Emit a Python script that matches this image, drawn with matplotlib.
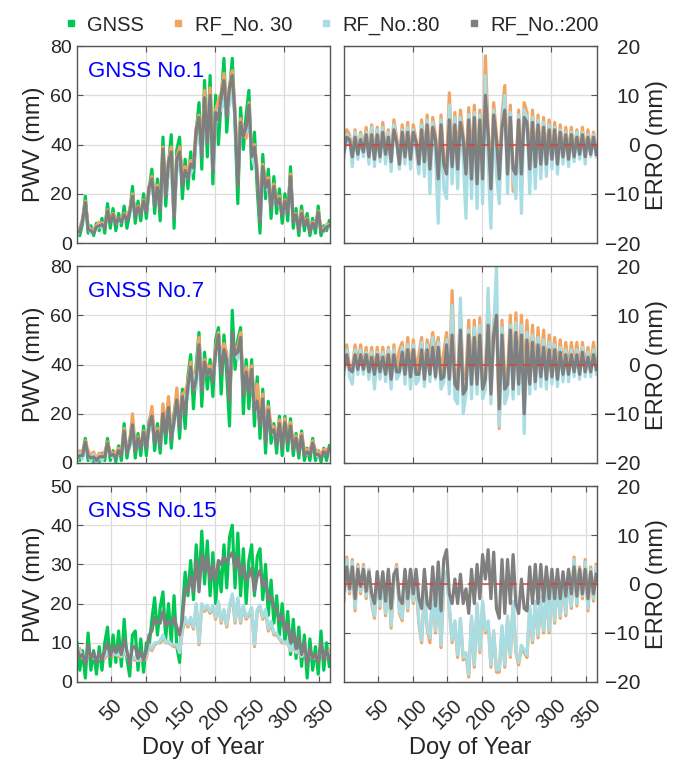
import numpy as np
import matplotlib.pyplot as plt
from matplotlib.lines import Line2D

# day of year sampled every 4 days
days = np.arange(1, 366, 4)

# GNSS PWV (mm), station No.1 / No.7 / No.15
gnss_1 = [6, 3, 8, 19, 4, 7, 3, 8, 5, 10,
          4, 16, 6, 14, 5, 12, 7, 15, 6, 12,
          23, 8, 17, 9, 20, 10, 22, 30, 12, 26,
          9, 43, 15, 32, 44, 6, 38, 43, 18, 34,
          22, 37, 26, 45, 57, 30, 66, 35, 68, 24,
          60, 40, 58, 75, 45, 62, 75, 48, 16, 55,
          38, 52, 62, 30, 45, 22, 4, 36, 18, 30,
          10, 27, 12, 22, 8, 20, 9, 31, 6, 14,
          3, 15, 5, 12, 3, 10, 4, 15, 3, 7,
          5, 9]
gnss_7 = [3, 1, 4, 10, 1, 3, 0.5, 2, 0.5, 4,
          1, 10, 1, 5, 0.5, 7, 1, 16, 2, 9,
          17, 2, 12, 3, 15, 3, 17, 21, 5, 16,
          4, 22, 8, 25, 6, 20, 28, 10, 30, 14,
          35, 44, 22, 40, 53, 23, 45, 30, 42, 27,
          50, 55, 28, 52, 36, 15, 62, 38, 50, 55,
          20, 42, 22, 42, 15, 35, 10, 30, 4, 25,
          8, 16, 4, 19, 3, 19, 5, 18, 3, 12,
          2, 13, 1, 6, 1, 10, 1, 5, 0.5, 6,
          1, 7]
gnss_15 = [10, 3, 8, 1, 12.5, 3, 8, 2, 9, 3,
           10, 14, 4, 12, 5, 13, 4, 16, 6, 1.5,
           12, 13, 3, 11, 2.5, 10, 9, 16, 21.5, 12,
           19, 23, 11, 20, 10, 22, 9, 5, 18, 28,
           22, 31, 21, 35, 24, 38.5, 25, 36, 22, 33,
           20, 30, 23, 35, 24, 37, 40, 24, 38, 22,
           34, 20, 31, 35, 22, 32, 34, 21, 30, 17,
           26, 15, 22, 12, 20, 10, 18, 7, 16, 6,
           14, 4, 12, 1, 11, 3, 9, 2, 13, 3,
           10, 4]

# errors RF - GNSS (mm)
e30_1 = [-1.0, 3.0, 2.0, -2.0, 3.0, -1.5, 2.5, -1.0, 3.5, -2.0,
         4.0, -2.5, 3.5, -2.0, 4.5, -2.0, 3.0, -3.0, 5.0, 1.5,
         -3.0, 4.0, -2.0, 4.5, -2.5, 4.0, 1.0, -3.0, 5.0, -2.5,
         6.0, -4.0, 5.5, 2.0, -5.0, 6.0, -3.0, -4.0, 10.5, -3.0,
         6.5, -3.5, 7.0, 2.0, -5.0, 7.5, -4.0, 8.0, -5.0, 7.0,
         -6.0, 18.0, 3.0, -6.0, 8.5, 2.0, -5.0, 6.0, 12.0, -4.5,
         8.0, -9.5, -5.0, 7.0, -5.0, 8.5, 6.5, -4.0, 7.0, -3.5,
         6.0, -3.0, 5.5, -3.0, 5.0, -2.5, 4.5, -3.0, 4.0, -2.0,
         3.5, -2.0, 3.5, -2.0, 3.0, -1.5, 3.5, -2.0, 3.0, -1.5,
         2.5, -1.5]
e80_1 = [-2.5, 2.0, 1.5, -4.5, 2.5, -3.0, 2.0, -2.5, 2.5, -4.0,
         3.5, -4.5, 3.0, -3.5, 3.5, -4.0, 2.5, -5.5, 4.0, 0.5,
         -5.0, 3.0, -4.0, 3.5, -5.0, 3.0, -1.0, -6.0, 4.0, -6.5,
         5.0, -10.0, 4.5, -2.0, -16.0, 5.0, -9.0, -11.0, 8.0, -8.0,
         5.5, -9.0, 5.5, -3.0, -15.0, 6.0, -11.0, 6.5, -13.0, 6.0,
         -12.0, 14.0, -4.0, -17.0, 7.0, -6.0, -12.0, 4.0, 10.0, -10.0,
         6.5, -7.0, -11.0, 6.0, -14.0, 7.0, 5.5, -10.0, 5.5, -9.0,
         5.0, -7.0, 4.5, -6.5, 4.0, -5.0, 3.5, -6.0, 3.0, -4.0,
         2.5, -4.5, 2.5, -3.5, 2.5, -3.0, 2.5, -4.0, 2.0, -2.5,
         2.0, -2.5]
e200_1 = [-1.5, 1.5, 1.0, -2.5, 1.5, -2.0, 1.0, -1.5, 2.0, -2.5,
          2.0, -3.0, 2.0, -2.5, 2.5, -2.0, 1.5, -3.5, 3.0, 0.5,
          -4.0, 2.5, -2.5, 2.5, -3.0, 2.5, 0.5, -4.0, 3.0, -3.5,
          4.0, -5.0, 3.5, 1.0, -7.0, 4.0, -4.0, -6.0, 5.0, -4.5,
          4.0, -5.0, 4.5, 1.0, -6.0, 5.0, -7.0, 5.5, -8.0, 5.0,
          -7.0, 10.0, 2.0, -9.0, 6.0, 1.0, -7.0, 3.5, 7.0, -6.0,
          5.5, -5.0, -6.0, 5.0, -6.0, 5.5, 4.5, -5.0, 4.5, -4.5,
          4.0, -4.0, 3.5, -4.0, 3.0, -3.0, 3.0, -4.0, 2.5, -2.5,
          2.0, -3.0, 2.0, -2.5, 1.5, -2.0, 2.0, -2.5, 1.5, -2.0,
          1.5, -2.0]

e30_7 = [-0.5, 4.0, -0.5, -1.0, 4.0, 0.0, 4.0, -0.5, 3.5, -1.0,
         3.5, -1.5, 3.5, -1.0, 3.5, -1.0, 3.5, -2.0, 4.0, -1.0,
         3.0, 4.5, -1.5, 5.5, -2.0, 5.0, -1.5, 2.0, 5.5, -2.0,
         5.0, 2.0, 6.5, 2.0, 5.5, -2.0, 2.5, 6.5, -2.0, 15.0,
         -2.0, -3.0, 11.0, -3.0, -2.0, 9.0, -3.0, 9.0, -2.5, 9.5,
         -3.0, -2.0, 14.0, -3.5, 9.0, 11.0, -13.0, 9.0, -3.0, -2.0,
         10.0, -3.0, 10.5, -2.5, 10.0, -3.0, 9.0, -2.0, 8.0, -2.0,
         7.5, -1.5, 7.0, -1.5, 6.0, -1.0, 5.5, -1.5, 5.0, -1.0,
         4.5, -1.0, 4.5, -0.5, 4.5, -1.0, 4.5, -0.5, 3.5, -0.5,
         4.5, -1.0]
e80_7 = [-2.0, 3.0, -2.5, -4.0, 3.0, -2.0, 3.0, -2.0, 2.5, -3.0,
         2.5, -5.0, 2.5, -3.0, 2.5, -3.5, 3.0, -5.0, 3.0, -3.0,
         -2.0, 3.5, -4.0, 4.0, -5.0, 4.0, -4.0, -3.0, 4.5, -4.5,
         4.0, -3.5, 5.5, -3.0, 4.5, -5.0, -3.5, 5.0, -6.0, 12.0,
         -7.0, -8.0, 13.5, -10.0, -6.0, 7.0, -7.0, 7.5, -6.0, 8.0,
         -7.0, -5.0, 15.5, -8.0, 7.0, 20.0, -12.5, 7.5, -8.0, -6.0,
         8.0, -7.0, 8.5, -6.0, 8.0, -14.0, 6.5, -6.0, 6.0, -5.0,
         5.5, -4.5, 5.0, -5.0, 4.5, -4.0, 4.0, -4.5, 3.5, -3.5,
         3.0, -3.5, 3.0, -2.5, 3.0, -3.0, 3.5, -2.5, 2.5, -2.5,
         3.0, -2.0]
e200_7 = [-1.0, 2.0, -1.0, -1.5, 2.0, -1.0, 2.0, -1.0, 2.0, -1.5,
          1.5, -2.0, 2.0, -1.5, 1.5, -2.0, 2.0, -3.0, 2.0, -1.5,
          -1.5, 2.5, -2.0, 3.0, -2.5, 3.0, -2.0, -2.0, 3.0, -3.0,
          3.0, -2.0, 3.5, -2.5, 3.5, -3.0, -2.5, 4.0, -3.0, 6.0,
          -4.0, -5.0, 7.0, -6.0, -5.0, 6.0, -4.0, 5.5, -4.0, 6.0,
          -5.0, -3.0, 8.0, -6.0, 6.0, 10.0, -9.0, 6.0, -5.0, -4.0,
          7.0, -5.0, 6.5, -4.0, 6.0, -10.0, 5.0, -4.0, 4.5, -3.5,
          4.0, -2.5, 3.5, -3.0, 3.0, -2.5, 3.0, -3.0, 2.5, -2.0,
          2.0, -2.0, 2.0, -1.5, 2.0, -2.0, 2.5, -1.5, 1.5, -1.5,
          2.0, -1.0]

e30_15 = [-3.5, 5.5, -2.0, 5.0, -5.5, 4.0, -2.0, 4.0, -3.0, 3.0,
          -4.0, -7.0, 2.5, -5.0, 2.0, -6.5, 2.5, -9.0, 1.0, 4.0,
          -6.0, -7.5, 2.5, -5.5, 3.0, -4.0, 0.5, -8.0, -12.0, -2.0,
          -9.0, -12.0, -1.0, -10.0, -0.5, -13.0, 0.5, 2.5, -5.0, -12.0,
          -8.0, -15.0, -7.5, -15.5, -14.5, -19.0, -7.0, -17.0, -4.5, -14.0,
          -4.0, -10.0, -8.0, -17.0, -10.0, -18.0, -18.0, -9.0, -17.0, -7.0,
          -15.0, -4.0, -14.0, -16.5, -13.0, -14.0, -15.0, -5.0, -12.0, -4.0,
          -11.0, -3.0, -10.0, -1.0, -10.0, 0.0, -8.0, 1.0, -7.0, 1.5,
          -6.5, 2.5, -5.0, 5.5, -4.5, 3.5, -3.0, 5.0, -5.5, 3.5,
          -3.5, 4.0]
e80_15 = [-3.0, 5.0, -1.5, 4.5, -5.0, 3.5, -1.5, 3.5, -2.5, 3.0,
          -3.5, -6.5, 2.5, -4.5, 2.0, -6.0, 2.5, -8.5, 1.0, 3.5,
          -5.5, -7.0, 2.5, -5.0, 3.0, -3.5, 0.5, -7.5, -11.5, -2.0,
          -8.5, -11.0, -1.0, -9.5, -0.5, -12.5, 0.5, 2.5, -4.5, -11.5,
          -7.5, -14.5, -7.0, -15.0, -14.0, -18.5, -6.5, -16.5, -4.0, -13.5,
          -3.5, -9.5, -7.5, -16.5, -9.5, -17.5, -17.5, -8.5, -16.5, -6.5,
          -14.5, -3.5, -13.5, -16.0, -12.5, -13.5, -14.5, -4.5, -11.5, -3.5,
          -10.5, -2.5, -9.5, -1.0, -9.5, 0.0, -7.5, 1.0, -6.5, 1.5,
          -6.0, 2.5, -4.5, 5.0, -4.0, 3.0, -2.5, 4.5, -5.0, 3.0,
          -3.0, 3.5]
e200_15 = [-1.5, 3.5, -1.0, 3.5, -3.0, 3.0, -0.5, 3.0, -1.5, 2.5,
           -2.0, -4.0, 2.5, -3.0, 2.5, -3.5, 3.0, -5.0, 2.0, 3.0,
           -3.0, -4.0, 3.0, -3.0, 3.0, -2.0, 3.0, -3.0, -5.0, 3.0,
           -4.0, -5.0, 3.5, -4.5, 4.5, -5.5, 5.0, 7.0, -2.0, -4.0,
           1.0, -4.0, 2.0, -4.0, -1.0, -6.0, 3.0, -4.0, 4.0, -3.0,
           6.0, 1.0, 7.0, -3.0, 6.5, -5.0, -7.0, 5.0, -6.0, 5.0,
           -4.0, 6.0, -4.0, -6.0, 1.0, -5.0, -5.5, 3.5, -4.0, 4.0,
           -4.0, 4.0, -3.5, 3.5, -3.0, 3.0, -3.0, 3.0, -3.0, 2.5,
           -2.5, 3.0, -2.0, 3.5, -2.5, 3.0, -2.0, 3.0, -3.0, 2.5,
           -2.0, 2.0]

station_names = ["GNSS No.1", "GNSS No.7", "GNSS No.15"]
pwv_max = [80, 80, 50]
pwv_step = [20, 20, 10]
legend_labels = ["GNSS", "RF_No. 30", "RF_No.:80", "RF_No.:200"]

c_gnss = "#00c853"
c_rf30 = "#f4a462"
c_rf80 = "#a9dde4"
c_rf200 = "#7f7f7f"
c_text = "#262626"

plt.rcParams["font.family"] = ["Liberation Sans", "DejaVu Sans"]

fig = plt.figure(figsize=(6.75, 7.62), dpi=100)

bottoms = [0.6811, 0.3924, 0.1050]
heights = [0.2585, 0.2585, 0.2572]
lw = 2.3


def style(ax, last):
    ax.set_xlim(1, 366)
    for s in ax.spines.values():
        s.set_color("#555555")
        s.set_linewidth(1.0)
    ax.grid(True, color="#dddddd", linewidth=0.9)
    ax.set_axisbelow(True)
    ax.tick_params(direction="in", length=4, width=0.8, color="#555555",
                   top=True, right=True, labelcolor=c_text)
    if last:
        ax.set_xticks(np.arange(50, 351, 50))
        ax.tick_params(axis="x", labelsize=14.5, pad=10)
        for lbl in ax.get_xticklabels():
            lbl.set_rotation(45)
            lbl.set_ha("center")
            lbl.set_va("top")
        ax.set_xlabel("Doy of Year", fontsize=17, color=c_text, labelpad=3)
    else:
        ax.set_xticks([100, 200, 300])
        ax.set_xticklabels([])


stations = [(gnss_1, e30_1, e80_1, e200_1),
            (gnss_7, e30_7, e80_7, e200_7),
            (gnss_15, e30_15, e80_15, e200_15)]

for i, (g, e30, e80, e200) in enumerate(stations):
    g = np.array(g)
    e30 = np.array(e30)
    e80 = np.array(e80)
    e200 = np.array(e200)
    last = i == 2

    axl = fig.add_axes([0.1141, bottoms[i], 0.3748, heights[i]])
    axl.plot(days, g, color=c_gnss, lw=lw)
    axl.plot(days, g + e30, color=c_rf30, lw=lw)
    axl.plot(days, g + e80, color=c_rf80, lw=lw)
    axl.plot(days, g + e200, color=c_rf200, lw=lw)
    style(axl, last)
    axl.set_ylim(0, pwv_max[i])
    axl.set_yticks(np.arange(0, pwv_max[i] + 1, pwv_step[i]))
    axl.tick_params(axis="y", labelsize=14)
    axl.set_ylabel("PWV (mm)", fontsize=17, color=c_text)
    axl.text(0.043, 0.87, station_names[i], transform=axl.transAxes,
             color="#0000ff", fontsize=16, va="center", ha="left")

    axr = fig.add_axes([0.5096, bottoms[i], 0.3748, heights[i]])
    axr.plot(days, e30, color=c_rf30, lw=lw)
    axr.plot(days, e80, color=c_rf80, lw=lw)
    axr.plot(days, e200, color=c_rf200, lw=lw)
    axr.axhline(0, color="#d9413a", lw=1.1, ls=(0, (5, 4)))
    style(axr, last)
    axr.set_ylim(-20, 20)
    axr.set_yticks([-20, -10, 0, 10, 20])
    axr.tick_params(axis="y", labelleft=False, labelright=True,
                    labelsize=15, pad=31)
    for lbl in axr.get_yticklabels():
        lbl.set_ha("right")
    axr.yaxis.set_label_position("right")
    axr.set_ylabel("ERRO (mm)", fontsize=17, color=c_text)

handles = [Line2D([], [], ls="none", marker="s", markersize=4, color=c)
           for c in [c_gnss, c_rf30, c_rf80, c_rf200]]
fig.legend(handles, legend_labels, loc="center", bbox_to_anchor=(0.49, 0.967),
           ncol=4, frameon=False, fontsize=14.5, handlelength=0.8,
           handletextpad=0.4, columnspacing=1.3, labelcolor=c_text)

fig.savefig("out.png", dpi=100)
